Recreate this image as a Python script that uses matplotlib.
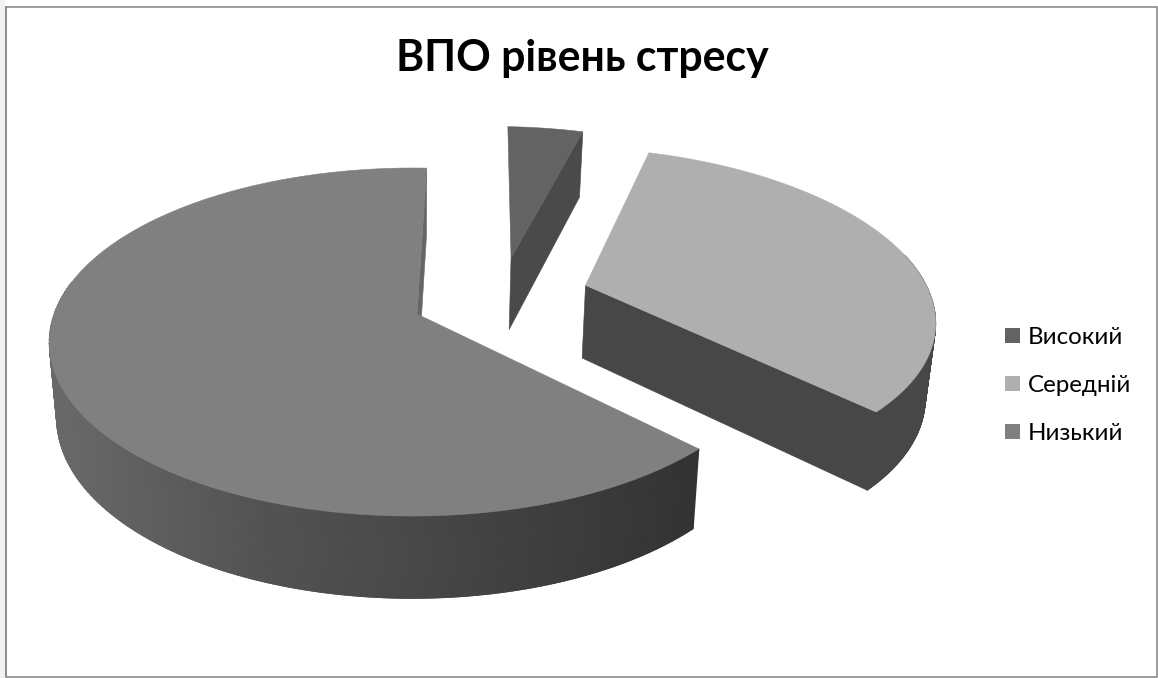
import numpy as np
import matplotlib
matplotlib.use('Agg')
import matplotlib.pyplot as plt
from matplotlib.colors import to_rgb
from matplotlib.patches import Polygon, Rectangle, Patch
from matplotlib.collections import LineCollection

# chart data
title = 'ВПО рівень стресу'
categories = ['Високий', 'Середній', 'Низький']
shares = [4.1, 33.0, 62.9]

# look of the pie
start_angle = 1.8
top_colors = ['#636363', '#afafaf', '#808080']
cut_colors = ['#4a4a4a', '#474747', '#666666']
explode = [(0.278, 0.35), (0.486, 0.175), (0.0, 0.0)]

# projection of the disc on the picture, in pixels
cx, cy = 417, 314
a, b, k, kx = 358.5, 169.5, 0.161, 0.012
depth, k2, shrink = 74, 0.10, 0.02

plt.rcParams['font.family'] = ['Lato', 'Open Sans', 'DejaVu Sans']


def project(X, Y, low=False):
    w = 1 + k*Y + kx*X
    sx = a*X/w
    sy = b*Y/w
    if low:
        sx = sx*(1 - shrink)
        sy = sy - depth/(1 + k2*Y)
    return cx + sx, cy - sy


def face(ax, xs, ys, color):
    ax.add_patch(Polygon(np.c_[xs, ys], closed=True, fc=color, ec=color, lw=0.4))


def draw_slice(ax, th0, th1, off, top, cut, shaded):
    th = np.radians(np.linspace(th0, th1, 200))
    X = off[0] + np.sin(th)
    Y = off[1] + np.cos(th)
    x_top, y_top = project(X, Y)
    x_low, y_low = project(X, Y, low=True)
    ax0, ay0 = project(off[0], off[1])
    bx0, by0 = project(off[0], off[1], low=True)

    # outer wall only where it faces us
    front = np.cos(th) < 0.2
    if front.sum() > 1:
        if shaded:
            g = np.interp(x_top[front], [60, 250, 700], [0.41, 0.33, 0.20])
        else:
            g = np.full(front.sum(), to_rgb(cut)[0])
        ax.pcolormesh(np.c_[x_top[front], x_low[front]], np.c_[y_top[front], y_low[front]],
                      np.c_[g, g], shading='gouraud', cmap='gray', vmin=0, vmax=1, zorder=1)
        # thin line so the lower edge stays smooth
        pts = np.c_[x_low[front], y_low[front]]
        segs = np.stack([pts[:-1], pts[1:]], axis=1)
        ax.add_collection(LineCollection(segs, colors=[(v, v, v) for v in g[:-1]],
                                         linewidths=0.7, zorder=1))
    # cut wall, then the top over it
    face(ax, [ax0, x_top[-1], x_low[-1], bx0], [ay0, y_top[-1], y_low[-1], by0], cut)
    face(ax, np.r_[ax0, x_top], np.r_[ay0, y_top], top)


fig = plt.figure(figsize=(11.58, 6.78), dpi=100)
ax = fig.add_axes([0, 0, 1, 1])
ax.set_xlim(0, 1158)
ax.set_ylim(678, 0)
ax.axis('off')

ax.add_patch(Rectangle((0, 0), 4.5, 678, fc='#f1f1f3', ec='none'))
ax.add_patch(Rectangle((6, 6.5), 1151, 670.5, fc='white', ec='#8c8c8c', lw=1.2))
ax.add_patch(Rectangle((5, 6), 2, 671, fc='#8c8c8c', ec='none'))

angles = start_angle + np.cumsum([0] + shares)*3.6
for i in range(len(categories)):
    draw_slice(ax, angles[i], angles[i+1], explode[i], top_colors[i], cut_colors[i],
               categories[i] == 'Низький')

ax.set_xlim(0, 1158)
ax.set_ylim(678, 0)

ax.text(582.5, 71, title, fontsize=30.8, fontweight='bold', ha='center', va='baseline', color='black')

handles = [Patch(fc=c, ec='none') for c in top_colors]
ax.legend(handles, categories, loc='center left', bbox_to_anchor=(1005/1158, 1 - 385.5/678),
          frameon=False, fontsize=17.4, handlelength=0.62, handleheight=0.62,
          handletextpad=0.33, labelspacing=1.12, borderpad=0, borderaxespad=0)

fig.savefig('out.png', dpi=100)
